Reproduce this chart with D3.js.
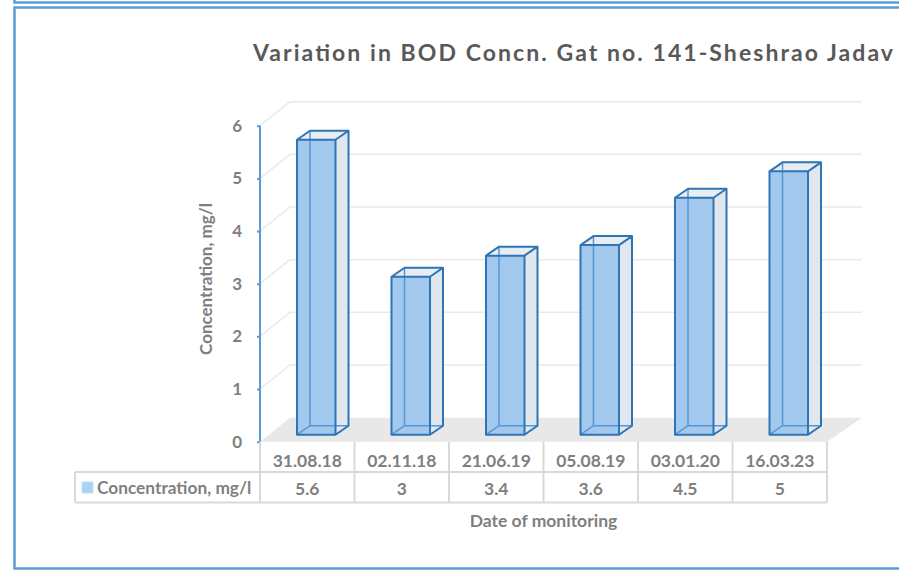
<!DOCTYPE html>
<html>
<head>
<meta charset="utf-8">
<script src="https://d3js.org/d3.v7.min.js"></script>
<style>
  body { margin: 0; background: #fff; }
  text { font-family: Lato, "Open Sans", sans-serif; font-weight: bold; }
</style>
</head>
<body>
<div id="chart"></div>
<script>
var categories = ["31.08.18", "02.11.18", "21.06.19", "05.08.19", "03.01.20", "16.03.23"];
var values = [5.6, 3, 3.4, 3.6, 4.5, 5];
var yTicks = [0, 1, 2, 3, 4, 5, 6];
var seriesName = "Concentration, mg/l";
var chartTitle = "Variation in BOD Concn. Gat no. 141-Sheshrao Jadav";
var xTitle = "Date of monitoring";

function drawChart(selector){
    var width = 899, height = 570;
    var svg = d3.select(selector)
        .append("svg")
        .attr("width", width)
        .attr("height", height);

    var x = d3.scaleBand().domain(categories).range([260, 827]);
    var y = d3.scaleLinear().domain([0, 6]).range([441.7, 125.7]);

    // 3d wall depth and bar depth offsets
    var wallDx = 30, wallDy = -24, wallRight = 862;
    var frontDx = 9, frontDy = -7, backDx = 22, backDy = -16;
    var barW = 38.5;

    // frames
    svg.append("rect")
        .attr("x", 14.5).attr("y", -100).attr("width", 900).attr("height", 102.5)
        .attr("fill", "none").attr("stroke", "#5b9bd5").attr("stroke-width", 2.5);
    svg.append("rect")
        .attr("x", 14.5).attr("y", 7.5).attr("width", 900).attr("height", 561)
        .attr("fill", "none").attr("stroke", "#5b9bd5").attr("stroke-width", 2.5);

    svg.append("text")
        .attr("x", 253).attr("y", 61)
        .attr("font-size", 23)
        .attr("fill", "#595959")
        .attr("textLength", 640)
        .attr("lengthAdjust", "spacing")
        .text(chartTitle);

    // floor
    svg.append("path")
        .attr("d", "M" + x.range()[0] + "," + y(0) +
            "L" + x.range()[1] + "," + y(0) +
            "L" + wallRight + "," + (y(0) + wallDy) +
            "L" + (x.range()[0] + wallDx) + "," + (y(0) + wallDy) + "Z")
        .attr("fill", "#e8e8e8");

    // gridlines on back and side wall
    var grid = svg.append("g");
    grid.selectAll(".gback")
        .data(yTicks.filter(function(d){ return d > 0; })).enter().append("line")
        .attr("x1", x.range()[0] + wallDx).attr("x2", wallRight)
        .attr("y1", function(d){ return y(d) + wallDy; })
        .attr("y2", function(d){ return y(d) + wallDy; })
        .attr("stroke", "#e9e9e9").attr("stroke-width", 1.5);
    grid.selectAll(".gside")
        .data(yTicks.filter(function(d){ return d > 0; })).enter().append("line")
        .attr("x1", x.range()[0]).attr("x2", x.range()[0] + wallDx)
        .attr("y1", function(d){ return y(d); })
        .attr("y2", function(d){ return y(d) + wallDy; })
        .attr("stroke", "#e9e9e9").attr("stroke-width", 1.5);

    // bars
    var bars = svg.selectAll(".bar")
        .data(values).enter().append("g")
        .attr("class", "bar");

    bars.each(function(v, i){
        var g = d3.select(this);
        var cx = x(categories[i]) + x.bandwidth() / 2;
        var fl = cx + frontDx - barW / 2, fr = fl + barW;
        var fb = y(0) + frontDy, ft = y(v) + frontDy;
        var bl = cx + backDx - barW / 2, br = bl + barW;
        var bb = y(0) + backDy, bt = y(v) + backDy;

        // right side
        g.append("path")
            .attr("d", "M" + fr + "," + fb + "L" + br + "," + bb + "L" + br + "," + bt + "L" + fr + "," + ft + "Z")
            .attr("fill", "#e1e7ee");
        // top
        g.append("path")
            .attr("d", "M" + fl + "," + ft + "L" + bl + "," + bt + "L" + br + "," + bt + "L" + fr + "," + ft + "Z")
            .attr("fill", "#e8edf2");
        // front
        g.append("rect")
            .attr("x", fl).attr("y", ft).attr("width", barW).attr("height", fb - ft)
            .attr("fill", "#a2c8ee");
        // hidden edges seen through the box
        g.append("path")
            .attr("d", "M" + fl + "," + fb + "L" + bl + "," + bb + "L" + br + "," + bb +
                "M" + bl + "," + bb + "L" + bl + "," + bt)
            .attr("fill", "none").attr("stroke", "#5596d6").attr("stroke-width", 1.5);
        // visible edges
        g.append("path")
            .attr("d", "M" + fl + "," + fb + "L" + fl + "," + ft + "L" + fr + "," + ft + "L" + fr + "," + fb + "Z" +
                "M" + fl + "," + ft + "L" + bl + "," + bt + "L" + br + "," + bt + "L" + fr + "," + ft +
                "M" + br + "," + bt + "L" + br + "," + bb + "L" + fr + "," + fb)
            .attr("fill", "none").attr("stroke", "#2e75b6").attr("stroke-width", 2)
            .attr("stroke-linejoin", "round");
    });

    // y axis
    var yAxis = svg.append("g")
        .attr("transform", "translate(" + x.range()[0] + ",0)")
        .call(d3.axisLeft(y).tickValues(yTicks).tickSize(3).tickPadding(15).tickFormat(d3.format("d")));
    yAxis.selectAll("path, line").attr("stroke", "#5b9bd5").attr("stroke-width", 2);
    yAxis.select(".domain").attr("d", "M0," + y(6) + "V" + y(0));
    yAxis.selectAll("text")
        .attr("fill", "#7f7f7f")
        .style("font-size", "17px")
        .style("font-family", "Lato, sans-serif")
        .style("font-weight", "bold");

    svg.append("text")
        .attr("transform", "translate(212,279) rotate(-90)")
        .attr("text-anchor", "middle")
        .attr("font-size", 17)
        .attr("fill", "#7f7f7f")
        .text(seriesName);

    // data table
    var rowTop = y(0), rowMid = 472, rowBot = 502.5, legLeft = 75;
    var tbl = svg.append("g").attr("stroke", "#d9d9d9").attr("stroke-width", 2);
    tbl.selectAll(".vline")
        .data(categories.concat(["end"])).enter().append("line")
        .attr("x1", function(d, i){ return x.range()[0] + i * x.bandwidth(); })
        .attr("x2", function(d, i){ return x.range()[0] + i * x.bandwidth(); })
        .attr("y1", rowTop).attr("y2", rowBot);
    tbl.append("line").attr("x1", legLeft).attr("x2", x.range()[1]).attr("y1", rowMid).attr("y2", rowMid);
    tbl.append("line").attr("x1", legLeft).attr("x2", x.range()[1]).attr("y1", rowBot).attr("y2", rowBot);
    tbl.append("line").attr("x1", legLeft).attr("x2", legLeft).attr("y1", rowMid).attr("y2", rowBot);

    svg.selectAll(".catlabel")
        .data(categories).enter().append("text")
        .attr("x", function(d){ return x(d) + x.bandwidth() / 2; })
        .attr("y", 467)
        .attr("text-anchor", "middle")
        .attr("font-size", 17.5)
        .attr("fill", "#7f7f7f")
        .text(function(d){ return d; });

    svg.selectAll(".vallabel")
        .data(values).enter().append("text")
        .attr("x", function(d, i){ return x(categories[i]) + x.bandwidth() / 2; })
        .attr("y", 494.5)
        .attr("text-anchor", "middle")
        .attr("font-size", 17.5)
        .attr("fill", "#7f7f7f")
        .text(function(d){ return d; });

    // legend key
    svg.append("rect")
        .attr("x", 82).attr("y", 482).attr("width", 11).attr("height", 11)
        .attr("fill", "#a9d2f7").attr("stroke", "#c5e0fa").attr("stroke-width", 1);
    svg.append("text")
        .attr("x", 97).attr("y", 494)
        .attr("font-size", 17.3)
        .attr("fill", "#7f7f7f")
        .text(seriesName);

    svg.append("text")
        .attr("x", 543.5).attr("y", 526.5)
        .attr("text-anchor", "middle")
        .attr("font-size", 17.5)
        .attr("fill", "#7f7f7f")
        .text(xTitle);
}
drawChart("#chart");
</script>
</body>
</html>
